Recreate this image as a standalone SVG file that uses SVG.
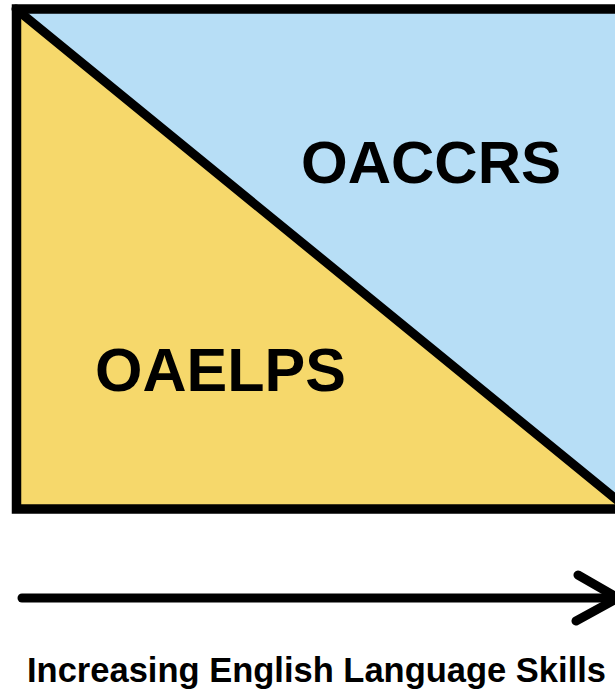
<svg xmlns="http://www.w3.org/2000/svg" width="615" height="690" viewBox="0 0 615 690">
<style>
.lbl{font-family:"Liberation Sans",Arial,sans-serif;font-weight:bold;fill:#000;}
.ln{stroke:#000;stroke-width:9;stroke-linecap:round;stroke-linejoin:round;fill:none;}
</style>
<rect width="615" height="690" fill="#fff"/>
<g id="oaccrs">
<polygon points="16,9 640,9 640,509 628,509" fill="#B7DEF6"/>
<text class="lbl" x="301" y="183" font-size="60">OACCRS</text>
</g>
<g id="oaelps">
<polygon points="16,9 628,509 16,509" fill="#F6D86B"/>
<text class="lbl" x="95" y="391" font-size="61">OAELPS</text>
</g>
<g id="connectors">
<line class="ln" x1="16" y1="9" x2="628" y2="509"/>
<rect x="16.5" y="9" width="640" height="500" fill="none" stroke="#000" stroke-width="9.5"/>
<line class="ln" x1="22" y1="598" x2="616" y2="598"/>
<polyline class="ln" points="578,575 618,598 576,621"/>
</g>
<g id="axis-label">
<text class="lbl" x="27" y="682" font-size="34.5">Increasing English Language Skills</text>
</g>
</svg>
